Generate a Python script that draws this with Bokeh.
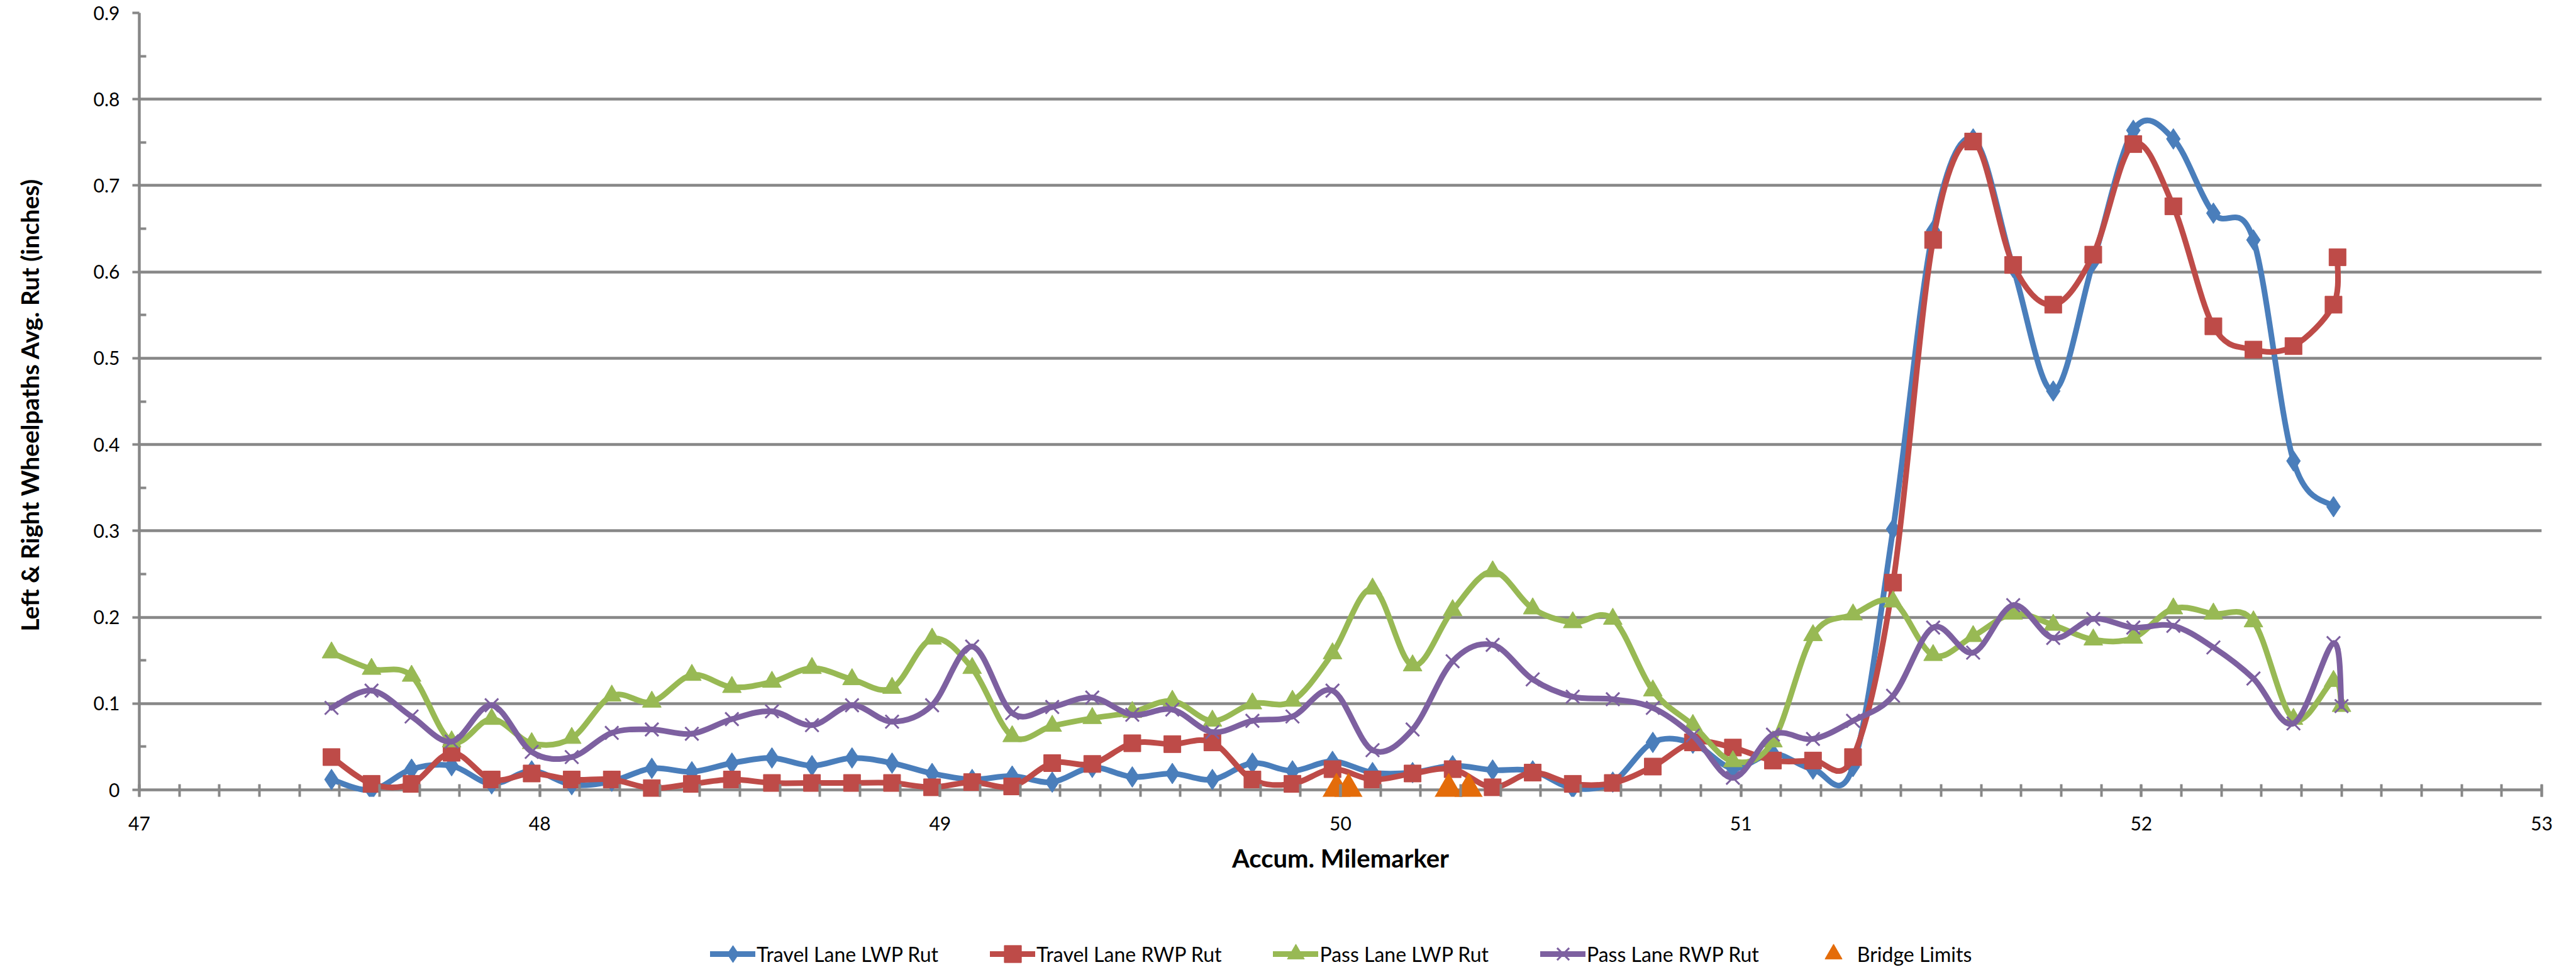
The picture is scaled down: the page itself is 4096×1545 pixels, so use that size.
import numpy as np
from bokeh.plotting import figure
from bokeh.layouts import column
from bokeh.models import Range1d, SingleIntervalTicker, FixedTicker, Legend, LegendItem
from bokeh.embed import file_html
from bokeh.resources import INLINE

# ---------------- data ----------------
milemarker = [47.48, 47.58, 47.68, 47.78, 47.88, 47.98, 48.08, 48.18, 48.28, 48.38,
              48.48, 48.58, 48.68, 48.78, 48.88, 48.98, 49.08, 49.18, 49.28, 49.38,
              49.48, 49.58, 49.68, 49.78, 49.88, 49.98, 50.08, 50.18, 50.28, 50.38,
              50.48, 50.58, 50.68, 50.78, 50.88, 50.98, 51.08, 51.18, 51.28, 51.38,
              51.48, 51.58, 51.68, 51.78, 51.88, 51.98, 52.08, 52.18, 52.28, 52.38,
              52.48]
travel_rwp_x = milemarker + [52.49]
pass_x = milemarker + [52.50]

travel_lwp = [0.012, 0.000, 0.024, 0.028, 0.007, 0.022, 0.006, 0.010, 0.025, 0.021,
              0.031, 0.037, 0.028, 0.037, 0.031, 0.019, 0.012, 0.016, 0.009, 0.026,
              0.015, 0.019, 0.012, 0.031, 0.022, 0.033, 0.020, 0.020, 0.028, 0.023,
              0.022, 0.002, 0.009, 0.055, 0.054, 0.025, 0.042, 0.024, 0.027, 0.302,
              0.648, 0.754, 0.605, 0.462, 0.612, 0.764, 0.754, 0.668, 0.637, 0.381,
              0.328]
travel_rwp = [0.038, 0.007, 0.007, 0.043, 0.012, 0.019, 0.012, 0.012, 0.002, 0.007,
              0.012, 0.008, 0.008, 0.008, 0.008, 0.003, 0.009, 0.004, 0.031, 0.030,
              0.054, 0.053, 0.055, 0.012, 0.007, 0.024, 0.012, 0.019, 0.024, 0.003,
              0.020, 0.007, 0.008, 0.027, 0.055, 0.049, 0.034, 0.034, 0.038, 0.240,
              0.637, 0.751, 0.608, 0.562, 0.620, 0.748, 0.676, 0.537, 0.510, 0.514,
              0.562, 0.617]
pass_lwp = [0.159, 0.140, 0.132, 0.056, 0.082, 0.054, 0.060, 0.109, 0.102, 0.133,
            0.119, 0.125, 0.141, 0.128, 0.118, 0.175, 0.141, 0.062, 0.074, 0.083,
            0.090, 0.103, 0.080, 0.100, 0.103, 0.158, 0.233, 0.144, 0.208, 0.253,
            0.210, 0.194, 0.198, 0.115, 0.075, 0.033, 0.056, 0.179, 0.203, 0.218,
            0.156, 0.178, 0.204, 0.191, 0.174, 0.176, 0.210, 0.204, 0.195, 0.082,
            0.126, 0.097]
pass_rwp = [0.095, 0.115, 0.085, 0.056, 0.098, 0.044, 0.038, 0.066, 0.070, 0.065,
            0.082, 0.091, 0.075, 0.098, 0.079, 0.098, 0.166, 0.089, 0.096, 0.107,
            0.087, 0.093, 0.067, 0.080, 0.085, 0.115, 0.046, 0.070, 0.149, 0.168,
            0.128, 0.108, 0.105, 0.095, 0.063, 0.014, 0.064, 0.059, 0.080, 0.109,
            0.188, 0.159, 0.214, 0.176, 0.198, 0.188, 0.190, 0.165, 0.129, 0.077,
            0.170, 0.097]
bridge_x = [49.99, 50.02, 50.27, 50.32]
bridge_y = [0.0, 0.0, 0.0, 0.0]

series_names = ["Travel Lane LWP Rut", "Travel Lane RWP Rut", "Pass Lane LWP Rut",
                "Pass Lane RWP Rut", "Bridge Limits"]
y_ticks = [0.0, 0.1, 0.2, 0.3, 0.4, 0.5, 0.6, 0.7, 0.8, 0.9]
y_tick_labels = ["0", "0.1", "0.2", "0.3", "0.4", "0.5", "0.6", "0.7", "0.8", "0.9"]
y_minor = [0.05, 0.15, 0.25, 0.35, 0.45, 0.55, 0.65, 0.75, 0.85]

BLUE, RED, GREEN, PURPLE, ORANGE = "#4A7EBB", "#BE4B48", "#98B954", "#7D60A0", "#E46C0A"
GRID = "#878787"
FONT = "Lato"
LW = 9


def smooth_segments(xs, ys):
    """Cubic Bezier control points (Catmull-Rom style, like Excel smoothing)."""
    n = len(xs)
    out = dict(x0=[], y0=[], x1=[], y1=[], cx0=[], cy0=[], cx1=[], cy1=[])
    for i in range(n - 1):
        xp, yp = (xs[i - 1], ys[i - 1]) if i > 0 else (xs[i], ys[i])
        xn, yn = (xs[i + 2], ys[i + 2]) if i + 2 < n else (xs[i + 1], ys[i + 1])
        out["x0"].append(xs[i]); out["y0"].append(ys[i])
        out["x1"].append(xs[i + 1]); out["y1"].append(ys[i + 1])
        out["cx0"].append(xs[i] + (xs[i + 1] - xp) / 6.0)
        out["cy0"].append(ys[i] + (ys[i + 1] - yp) / 6.0)
        out["cx1"].append(xs[i + 1] - (xn - xs[i]) / 6.0)
        out["cy1"].append(ys[i + 1] - (yn - ys[i]) / 6.0)
    return out


specs = [
    (milemarker, travel_lwp, BLUE, "diamond", 33),
    (travel_rwp_x, travel_rwp, RED, "square", 27),
    (pass_x, pass_lwp, GREEN, "triangle", 30),
    (pass_x, pass_rwp, PURPLE, "x", 30),
]


def draw_series(fig):
    """Draw all series on fig; return list of renderer lists (one per legend entry)."""
    rends = []
    for xs, ys, col, mk, sz in specs:
        seg = smooth_segments(xs, ys)
        br = fig.bezier(x0=seg["x0"], y0=seg["y0"], x1=seg["x1"], y1=seg["y1"],
                        cx0=seg["cx0"], cy0=seg["cy0"], cx1=seg["cx1"], cy1=seg["cy1"],
                        line_color=col, line_width=LW, line_cap="round")
        if mk == "x":
            sr = fig.scatter(xs, ys, marker=mk, size=sz, line_color=col, line_width=3)
        else:
            sr = fig.scatter(xs, ys, marker=mk, size=sz, fill_color=col, line_color=col,
                             line_width=1)
        rends.append([br, sr])
    bsr = fig.scatter(bridge_x, bridge_y, marker="triangle", size=46, fill_color=ORANGE,
                      line_color=ORANGE, line_width=1)
    rends.append([bsr])
    return rends


# ---------------- main chart ----------------
# the frame reaches 11 px below y=0 so that markers sitting on the axis are not cut
p = figure(width=4080, height=1410, output_backend="svg", toolbar_location=None,
           x_range=Range1d(47, 53), y_range=Range1d(-0.008, 0.9),
           min_border_left=221, min_border_right=39, min_border_top=20, min_border_bottom=144)
p.outline_line_color = None
p.background_fill_color = "white"

p.xaxis.ticker = SingleIntervalTicker(interval=1, num_minor_ticks=10)
p.yaxis.ticker = FixedTicker(ticks=y_ticks, minor_ticks=y_minor)
p.yaxis.major_label_overrides = {t: l for t, l in zip(y_ticks, y_tick_labels)}
for ax in (p.xaxis[0], p.yaxis[0]):
    ax.axis_line_color = GRID
    ax.axis_line_width = 4.5
    ax.major_tick_line_color = GRID
    ax.major_tick_line_width = 4
    ax.minor_tick_line_color = GRID
    ax.minor_tick_line_width = 4
    ax.major_label_text_font = FONT
    ax.major_label_text_font_size = "30px"
    ax.major_label_text_color = "black"
    ax.axis_label_text_font = FONT
    ax.axis_label_text_font_size = "40px"
    ax.axis_label_text_font_style = "bold"
    ax.axis_label_text_color = "black"

p.xaxis.axis_label = "Accum. Milemarker"
p.xaxis.axis_line_color = None          # the y = 0 grid line is the visible axis line
p.xaxis.major_tick_in = 19
p.xaxis.major_tick_out = 0
p.xaxis.minor_tick_in = 20
p.xaxis.minor_tick_out = 0
p.xaxis.major_label_standoff = 31
p.xaxis.axis_label_standoff = 17

p.yaxis.axis_label = "Left & Right Wheelpaths Avg. Rut (inches)"
p.yaxis.axis_label_text_font_size = "39px"
p.yaxis.bounds = (0, 0.9)
p.yaxis.major_tick_in = 0
p.yaxis.major_tick_out = 11
p.yaxis.minor_tick_in = 11
p.yaxis.minor_tick_out = 0
p.yaxis.major_label_standoff = 20
p.yaxis.axis_label_standoff = 76

p.xgrid.grid_line_color = None
p.ygrid.grid_line_color = GRID
p.ygrid.grid_line_width = 4.5

draw_series(p)

# ---------------- legend strip (same series, drawn outside its visible range) ----------------
leg = figure(width=4080, height=127, output_backend="svg", toolbar_location=None,
             x_range=Range1d(47, 53), y_range=Range1d(10, 11),
             x_axis_location=None, y_axis_location=None,
             min_border_left=0, min_border_right=0, min_border_top=0, min_border_bottom=0)
leg.outline_line_color = None
leg.grid.grid_line_color = None
leg_rends = draw_series(leg)

items = [LegendItem(label=name, renderers=r) for name, r in zip(series_names, leg_rends)]
legend = Legend(items=items, orientation="horizontal", location=(908, -13),
                glyph_width=72, glyph_height=68, label_standoff=2, spacing=82,
                padding=0, margin=0, border_line_color=None, background_fill_alpha=0,
                label_text_font=FONT, label_text_font_size="32px", label_text_color="black")
leg.add_layout(legend)

page = column(p, leg, spacing=0)
open("out.html", "w").write(file_html(page, INLINE))
